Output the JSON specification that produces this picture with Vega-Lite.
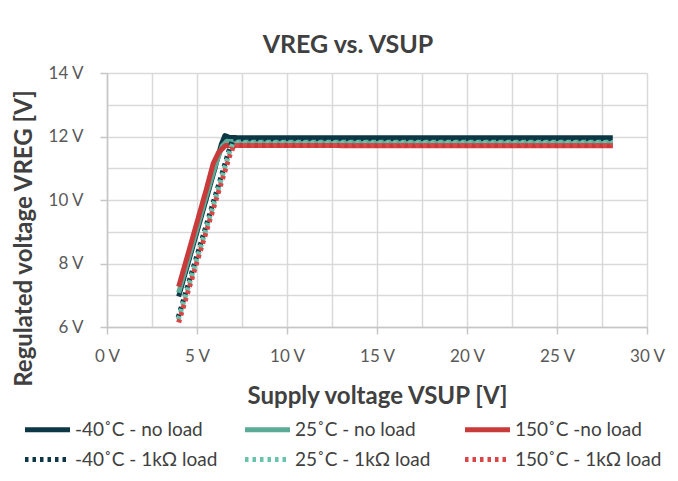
{
  "$schema": "https://vega.github.io/schema/vega-lite/v6.json",
  "width": 540,
  "height": 254,
  "autosize": {"type": "none"},
  "padding": {"left": 107, "top": 73, "right": 31, "bottom": 154},
  "background": "white",
  "title": {
    "text": "VREG vs. VSUP",
    "font": "Lato",
    "fontSize": 25,
    "fontWeight": "bold",
    "color": "#404040",
    "anchor": "middle",
    "dx": -29,
    "offset": 6
  },
  "config": {
    "view": {"stroke": null},
    "font": "Lato"
  },
  "data": {
    "values": [
      {"s": "-40˚C - no load", "x": 3.98, "y": 6.96},
      {"s": "-40˚C - no load", "x": 4.5, "y": 8.0},
      {"s": "-40˚C - no load", "x": 5.0, "y": 9.0},
      {"s": "-40˚C - no load", "x": 5.5, "y": 10.0},
      {"s": "-40˚C - no load", "x": 6.0, "y": 11.0},
      {"s": "-40˚C - no load", "x": 6.35, "y": 11.75},
      {"s": "-40˚C - no load", "x": 6.55, "y": 12.03},
      {"s": "-40˚C - no load", "x": 6.8, "y": 11.97},
      {"s": "-40˚C - no load", "x": 7.5, "y": 11.96},
      {"s": "-40˚C - no load", "x": 15, "y": 11.96},
      {"s": "-40˚C - no load", "x": 28.1, "y": 11.96},
      {"s": "25˚C - no load", "x": 3.98, "y": 7.08},
      {"s": "25˚C - no load", "x": 4.5, "y": 8.1},
      {"s": "25˚C - no load", "x": 5.0, "y": 9.1},
      {"s": "25˚C - no load", "x": 5.5, "y": 10.1},
      {"s": "25˚C - no load", "x": 6.0, "y": 11.05},
      {"s": "25˚C - no load", "x": 6.4, "y": 11.7},
      {"s": "25˚C - no load", "x": 6.65, "y": 11.85},
      {"s": "25˚C - no load", "x": 7.5, "y": 11.82},
      {"s": "25˚C - no load", "x": 15, "y": 11.82},
      {"s": "25˚C - no load", "x": 28.1, "y": 11.82},
      {"s": "150˚C -no load", "x": 3.98, "y": 7.27},
      {"s": "150˚C -no load", "x": 4.5, "y": 8.3},
      {"s": "150˚C -no load", "x": 5.0, "y": 9.3},
      {"s": "150˚C -no load", "x": 5.5, "y": 10.3},
      {"s": "150˚C -no load", "x": 5.9, "y": 11.15},
      {"s": "150˚C -no load", "x": 6.2, "y": 11.5},
      {"s": "150˚C -no load", "x": 6.6, "y": 11.72},
      {"s": "150˚C -no load", "x": 7.0, "y": 11.72},
      {"s": "150˚C -no load", "x": 15, "y": 11.71},
      {"s": "150˚C -no load", "x": 28.1, "y": 11.71},
      {"s": "-40˚C - 1kΩ load", "x": 3.95, "y": 6.3},
      {"s": "-40˚C - 1kΩ load", "x": 5.0, "y": 8.25},
      {"s": "-40˚C - 1kΩ load", "x": 6.0, "y": 10.1},
      {"s": "-40˚C - 1kΩ load", "x": 6.8, "y": 11.6},
      {"s": "-40˚C - 1kΩ load", "x": 7.0, "y": 11.93},
      {"s": "-40˚C - 1kΩ load", "x": 15, "y": 11.94},
      {"s": "-40˚C - 1kΩ load", "x": 28.1, "y": 11.94},
      {"s": "25˚C - 1kΩ load", "x": 3.96, "y": 6.24},
      {"s": "25˚C - 1kΩ load", "x": 5.0, "y": 8.15},
      {"s": "25˚C - 1kΩ load", "x": 6.0, "y": 10.0},
      {"s": "25˚C - 1kΩ load", "x": 6.8, "y": 11.5},
      {"s": "25˚C - 1kΩ load", "x": 7.0, "y": 11.8},
      {"s": "25˚C - 1kΩ load", "x": 15, "y": 11.8},
      {"s": "25˚C - 1kΩ load", "x": 28.1, "y": 11.8},
      {"s": "150˚C - 1kΩ load", "x": 3.98, "y": 6.14},
      {"s": "150˚C - 1kΩ load", "x": 5.0, "y": 8.05},
      {"s": "150˚C - 1kΩ load", "x": 6.0, "y": 9.9},
      {"s": "150˚C - 1kΩ load", "x": 6.85, "y": 11.45},
      {"s": "150˚C - 1kΩ load", "x": 7.05, "y": 11.72},
      {"s": "150˚C - 1kΩ load", "x": 15, "y": 11.72},
      {"s": "150˚C - 1kΩ load", "x": 28.1, "y": 11.72}
    ]
  },
  "mark": {"type": "line", "strokeCap": "butt", "strokeJoin": "round"},
  "encoding": {
    "x": {
      "field": "x",
      "type": "quantitative",
      "scale": {"domain": [0, 30], "nice": false},
      "axis": {
        "values": [0, 2.5, 5, 7.5, 10, 12.5, 15, 17.5, 20, 22.5, 25, 27.5, 30],
        "labelExpr": "datum.value % 5 == 0 ? datum.value + ' V' : ''",
        "title": "Supply voltage VSUP [V]",
        "titleFont": "Lato",
        "titleFontSize": 24,
        "titleFontWeight": "bold",
        "titleColor": "#404040",
        "titlePadding": 20,
        "labelFont": "Lato",
        "labelFontSize": 17,
        "labelColor": "#595959",
        "labelPadding": 14,
        "labelFlush": false,
        "labelOverlap": false,
        "ticks": true,
        "tickSize": 7,
        "tickColor": "#c6c6c6",
        "tickWidth": 1.5,
        "tickOpacity": {"condition": {"test": "datum.value % 5 == 0", "value": 1}, "value": 0},
        "domain": true,
        "domainColor": "#c6c6c6",
        "domainWidth": 1.5,
        "gridColor": "#d9d9d9",
        "gridWidth": 1.5
      }
    },
    "y": {
      "field": "y",
      "type": "quantitative",
      "scale": {"domain": [6, 14], "nice": false, "zero": false},
      "axis": {
        "values": [6, 7, 8, 9, 10, 11, 12, 13, 14],
        "labelExpr": "datum.value % 2 == 0 ? datum.value + ' V' : ''",
        "title": "Regulated voltage VREG [V]",
        "titleFont": "Lato",
        "titleFontSize": 24,
        "titleFontWeight": "bold",
        "titleColor": "#404040",
        "titleX": -71,
        "titleY": 165,
        "labelFont": "Lato",
        "labelFontSize": 17,
        "labelColor": "#595959",
        "labelPadding": 17,
        "labelOverlap": false,
        "ticks": true,
        "tickSize": 7,
        "tickColor": "#c6c6c6",
        "tickWidth": 1.5,
        "tickOpacity": {"condition": {"test": "datum.value % 2 == 0", "value": 1}, "value": 0},
        "domain": true,
        "domainColor": "#c6c6c6",
        "domainWidth": 1.5,
        "gridColor": "#d9d9d9",
        "gridWidth": 1.5
      }
    },
    "color": {
      "field": "s",
      "type": "nominal",
      "sort": null,
      "scale": {
        "domain": ["-40˚C - no load", "25˚C - no load", "150˚C -no load", "-40˚C - 1kΩ load", "25˚C - 1kΩ load", "150˚C - 1kΩ load"],
        "range": ["#0D3744", "#5BAB97", "#C93B3B", "#0D3744", "#68C2AC", "#DA4545"]
      },
      "legend": {
        "title": null,
        "orient": "none",
        "legendX": -85,
        "legendY": 339,
        "columns": 3,
        "direction": "horizontal",
        "gridAlign": "all",
        "columnPadding": 13,
        "rowPadding": 2,
        "symbolType": "M-1.5,0H1.5",
        "symbolSize": 900,
        "symbolStrokeWidth": 5,
        "symbolOffset": 8,
        "labelOffset": 10,
        "labelFont": "Lato",
        "labelFontSize": 19,
        "labelColor": "#404040",
        "labelLimit": 250
      }
    },
    "strokeDash": {
      "field": "s",
      "type": "nominal",
      "sort": null,
      "scale": {
        "domain": ["-40˚C - no load", "25˚C - no load", "150˚C -no load", "-40˚C - 1kΩ load", "25˚C - 1kΩ load", "150˚C - 1kΩ load"],
        "range": [[1, 0], [1, 0], [1, 0], [3.5, 4], [3.5, 4], [3.5, 4]]
      },
      "legend": null
    },
    "strokeWidth": {
      "field": "s",
      "type": "nominal",
      "sort": null,
      "scale": {
        "domain": ["-40˚C - no load", "25˚C - no load", "150˚C -no load", "-40˚C - 1kΩ load", "25˚C - 1kΩ load", "150˚C - 1kΩ load"],
        "range": [5, 5, 5, 4, 4, 4]
      },
      "legend": null
    },
    "order": {"field": "x", "type": "quantitative"}
  }
}
